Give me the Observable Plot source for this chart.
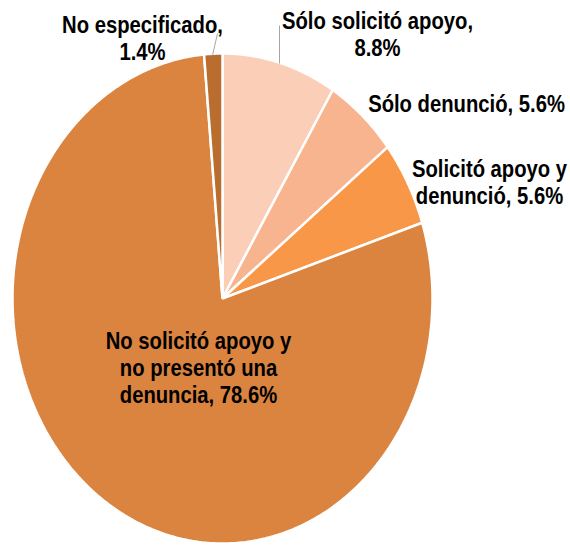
<!DOCTYPE html>
<html>
<head>
<meta charset="utf-8">
<script src="https://cdn.jsdelivr.net/npm/d3@7"></script>
<script src="https://cdn.jsdelivr.net/npm/@observablehq/plot@0.6"></script>
<style>
  html, body { margin: 0; padding: 0; background: #fff; }
  #chart svg { display: block; }
</style>
</head>
<body>
<div id="chart"></div>
<script>
// ---- data (clockwise from 12 o'clock) ----
const categories = [
  "Sólo solicitó apoyo",
  "Sólo denunció",
  "Solicitó apoyo y denunció",
  "No solicitó apoyo y no presentó una denuncia",
  "No especificado"
];
const values = [8.8, 5.6, 5.6, 78.6, 1.4];
const labels = [
  "Sólo solicitó apoyo,\n8.8%",
  "Sólo denunció, 5.6%",
  "Solicitó apoyo y\ndenunció, 5.6%",
  "No solicitó apoyo y\nno presentó una\ndenuncia, 78.6%",
  "No especificado,\n1.4%"
];
const colors = ["#FBCEB7", "#F8B48E", "#F79747", "#DB843F", "#B96D2F"];

// ---- layout (pixel positions, converted to the unit frame) ----
const W = 570, H = 545;
const X0 = 12, X1 = 432, Y0 = 543, Y1 = 53;
const cx = (X0 + X1) / 2, cy = (Y0 + Y1) / 2;
const toX = px => (px - cx) / ((X1 - X0) / 2);
const toY = py => (cy - py) / ((Y0 - Y1) / 2);
const labelPos = [[377, 33], [466, 103], [489, 181], [198, 367], [142, 37]];
const leaders = [
  {x1: 279, y1: 63, x2: 279, y2: 25},
  {x1: 212, y1: 55, x2: 217, y2: 33}
];
const SQUEEZE = 0.88;

// ---- slice polygons (unit circle, stretched by scales) ----
const total = d3.sum(values);
const pts = [];
let acc = 0;
values.forEach((v, i) => {
  const a0 = acc / total * 2 * Math.PI;
  acc += v;
  const a1 = acc / total * 2 * Math.PI;
  pts.push({cat: categories[i], x: 0, y: 0});
  const n = Math.max(2, Math.ceil((a1 - a0) / 0.01));
  for (let k = 0; k <= n; k++) {
    const t = a0 + (a1 - a0) * k / n;
    pts.push({cat: categories[i], x: Math.sin(t), y: Math.cos(t)});
  }
});

const labelData = labels.map((t, i) => ({text: t, x: toX(labelPos[i][0]), y: toY(labelPos[i][1])}));
const leaderData = leaders.map(d => ({x1: toX(d.x1), y1: toY(d.y1), x2: toX(d.x2), y2: toY(d.y2)}));

const chart = Plot.plot({
  width: W,
  height: H,
  margin: 0,
  x: {domain: [-1, 1], range: [X0, X1], axis: null},
  y: {domain: [-1, 1], range: [Y0, Y1], axis: null},
  color: {domain: categories, range: colors},
  style: {fontFamily: "'Liberation Sans Narrow', 'Arial Narrow', 'Liberation Sans', Arial, sans-serif", background: "#fff"},
  marks: [
    Plot.line(pts, {x: "x", y: "y", z: "cat", fill: "cat", stroke: "#fff", strokeWidth: 2.5, strokeLinejoin: "miter", curve: "linear-closed"}),
    Plot.link(leaderData, {x1: "x1", y1: "y1", x2: "x2", y2: "y2", stroke: "#A6A6A6", strokeWidth: 1}),
    Plot.text(labelData, {x: "x", y: "y", text: "text", fontSize: 23, fontWeight: "bold", fill: "#000", lineHeight: 1.17, textAnchor: "middle"})
  ]
});
// condense the label glyphs horizontally (narrow font not installed)
chart.querySelectorAll("text").forEach(t => {
  const tr = t.getAttribute("transform") || "";
  t.setAttribute("transform", tr + ` scale(${SQUEEZE},1)`);
});
document.getElementById("chart").appendChild(chart);
</script>
</body>
</html>
